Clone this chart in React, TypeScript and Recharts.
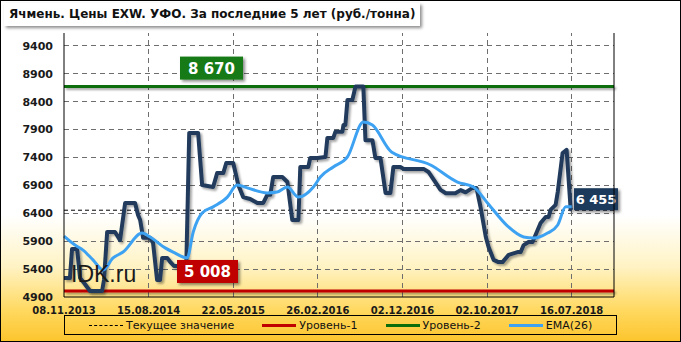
import React from 'react'
import { ComposedChart, Line, XAxis, YAxis, ReferenceLine } from 'recharts'

// week index of each x label
const xTicks = [0, 40, 80, 120, 160, 200, 240]
const xLabels = ['08.11.2013', '15.08.2014', '22.05.2015', '26.02.2016', '02.12.2016', '02.10.2017', '16.07.2018']
const yTicks = [4900, 5400, 5900, 6400, 6900, 7400, 7900, 8400, 8900, 9400]

// price, руб./тонна (vertices of the weekly line)
const priceX = [
  0, 2.8, 3.8, 6.2, 7.6, 9.5, 12.3, 18, 18.9, 20.4, 24.1, 26.5, 28.9, 33.6, 35, 36, 37.4, 40.7, 42.1, 44,
  45.4, 46.4, 48.8, 50.2, 52, 57.8, 59.2, 63.4, 65.3, 70.5, 72.4, 75.3, 76.7, 80, 82.4, 84.7, 88, 91.4, 94.2, 96.1,
  97.5, 98.9, 103.2, 105.6, 107.9, 110.8, 111.7, 115.5, 116.4, 119.8, 123.6, 124.5, 127.3, 128.3, 131.6, 132.1, 133, 134, 136.3, 137.8,
  141.5, 142.5, 145.8, 147.2, 149.6, 152, 154.3, 155.7, 159, 160.5, 170, 172.3, 178, 180.5, 185, 187.5, 189.8, 193.1, 195, 196.9,
  199.4, 200.7, 203.1, 205.4, 207.3, 210.2, 214.4, 215.9, 217.3, 219.6, 221.5, 223.9, 225.3, 227.7, 229.1, 230, 232.4, 233.4, 235.7, 237.6,
  239.5, 240,
]
const priceY = [
  5240, 5240, 5760, 5760, 5240, 5150, 5008, 5008, 5205, 6065, 6065, 5920, 6585, 6585, 6370, 6280, 5960, 5960, 5870, 5205,
  5205, 5600, 5600, 5530, 5455, 5455, 7840, 7840, 6905, 6870, 7120, 7120, 7300, 7300, 6905, 6690, 6655, 6585, 6585, 6730,
  6730, 7050, 7050, 6960, 6280, 6280, 7230, 7230, 7390, 7390, 7410, 7750, 7750, 7860, 7860, 7980, 7980, 8430, 8430, 8670,
  8670, 7710, 7710, 7390, 7390, 6765, 6765, 7230, 7230, 7195, 7195, 7140, 6820, 6760, 6760, 6815, 6775, 6855, 6855, 6513,
  5975, 5795, 5565, 5525, 5525, 5655, 5705, 5705, 5830, 5885, 5885, 6100, 6225, 6335, 6335, 6460, 6550, 6780, 7480, 7535,
  6480, 6455,
]

// EMA(26)
const emaX = [
  0, 5.2, 9, 13.7, 18.5, 23.2, 27.9, 36.9, 40.7, 47.8, 51.6, 58.2, 61.1, 65.3, 70.5, 77.2, 81.9, 86.6, 96.1, 100.8,
  105.6, 110.8, 117.9, 121.2, 127.3, 134, 141.5, 145.8, 154.8, 173.3, 186, 193.6, 200.2, 209.7, 217.3, 222, 228.6, 233.4, 237.2, 240,
]
const emaY = [
  5990, 5830, 5740, 5565, 5385, 5600, 5705, 6045, 5975, 5780, 5705, 5600, 6065, 6405, 6515, 6690, 6905, 6855, 6765, 6780,
  6870, 6690, 6870, 7050, 7230, 7410, 8035, 7980, 7500, 7265, 6960, 6870, 6585, 6170, 5975, 5955, 6045, 6190, 6515, 6515,
]

const level1 = 5008
const level2 = 8670
const current = 6455

type Row = { i: number; price?: number; ema?: number }
const rows = new Map<number, Row>()
priceX.forEach((x, k) => {
  const r = rows.get(x) ?? { i: x }
  r.price = priceY[k]
  rows.set(x, r)
})
emaX.forEach((x, k) => {
  const r = rows.get(x) ?? { i: x }
  r.ema = emaY[k]
  rows.set(x, r)
})
const data = Array.from(rows.values()).sort((a, b) => a.i - b.i)

const fmt = (v: number) => String(v).replace(/\B(?=(\d{3})+(?!\d))/g, ' ')

function BoxLabel(props: any) {
  const { viewBox, text, fill, dx, dy, w, h, fontSize } = props
  if (!viewBox) return null
  const x = viewBox.x + dx
  const y = viewBox.y + dy
  return (
    <g>
      <rect x={x} y={y} width={w} height={h} fill={fill} filter="url(#boxShadow)" />
      <text x={x + w / 2} y={y + h / 2 + 1} textAnchor="middle" dominantBaseline="middle" fill="#fff"
        fontWeight="bold" fontSize={fontSize} fontFamily="DejaVu Sans">{text}</text>
    </g>
  )
}

const legendItems = [
  { name: 'Текущее значение', color: '#000', dash: true },
  { name: 'Уровень-1', color: '#c00000', dash: false },
  { name: 'Уровень-2', color: '#0b6e0b', dash: false },
  { name: 'EMA(26)', color: '#3ea2f2', dash: false },
]

const yTick = { fontSize: 11, fontWeight: 'bold', fill: '#1a1a1a', fontFamily: 'DejaVu Sans' }

export default function App() {
  return (
    <div style={{
      position: 'absolute', left: 0, top: 0, width: 681, height: 342, overflow: 'hidden',
      background: 'linear-gradient(to bottom, #ffffff 0%, #ffffff 63%, #fff3c4 78%, #ffd85e 91%, #fcc42c 100%)',
      boxShadow: 'inset 0 0 0 1px #000', fontFamily: 'DejaVu Sans',
    }}>
      <ComposedChart width={681} height={342} data={data} margin={{ top: 33, right: 0, bottom: 0, left: 0 }}>
        <defs>
          <filter id="lineShadow" filterUnits="userSpaceOnUse" x="0" y="0" width="681" height="342">
            <feDropShadow dx="2" dy="2" stdDeviation="1.2" floodColor="#000" floodOpacity="0.35" />
          </filter>
          <filter id="boxShadow" x="-20%" y="-20%" width="150%" height="160%">
            <feDropShadow dx="2" dy="2" stdDeviation="1.5" floodColor="#000" floodOpacity="0.45" />
          </filter>
        </defs>
        <XAxis dataKey="i" type="number" domain={[0, 260]} ticks={xTicks} interval={0}
          tickFormatter={(v: number) => xLabels[xTicks.indexOf(v)] ?? ''}
          height={45} axisLine={{ stroke: '#000' }} tickLine={false} tickMargin={4}
          tick={{ fontSize: 10, fontWeight: 'bold', fill: '#1a1a1a', fontFamily: 'DejaVu Sans' }} />
        <XAxis xAxisId="top" orientation="top" dataKey="i" type="number" domain={[0, 260]} height={0}
          tick={false} tickLine={false} axisLine={{ stroke: '#000' }} />
        <YAxis domain={[4900, 9630]} ticks={yTicks} interval={0} width={64}
          axisLine={{ stroke: '#000' }} tickLine={false} tickMargin={5} tick={yTick} />
        <YAxis yAxisId="right" orientation="right" domain={[4900, 9630]} ticks={yTicks} interval={0} width={67}
          axisLine={{ stroke: '#000' }} tickLine={false} tickMargin={6} tick={yTick} />

        {/* dashed grid */}
        {yTicks.slice(1).map((v) => (
          <ReferenceLine key={'gy' + v} y={v} stroke="#6e6e6e" strokeWidth={1} strokeDasharray="5 4"
            shapeRendering="crispEdges" />
        ))}
        {xTicks.slice(1).map((v) => (
          <ReferenceLine key={'gx' + v} x={v} stroke="#6e6e6e" strokeWidth={1} strokeDasharray="5 4"
            shapeRendering="crispEdges" />
        ))}

        <ReferenceLine y={level1} stroke="#c00000" strokeWidth={3} filter="url(#lineShadow)" />
        <ReferenceLine y={level2} stroke="#0b6e0b" strokeWidth={3} filter="url(#lineShadow)" />
        <ReferenceLine y={current} stroke="#000" strokeWidth={1} strokeDasharray="4 3" />

        <Line dataKey="price" type="linear" stroke="#203b5c" strokeWidth={4}
          strokeLinejoin="round" dot={false} connectNulls isAnimationActive={false} filter="url(#lineShadow)" />
        <Line dataKey="ema" type="monotone" stroke="#3ea2f2" strokeWidth={3}
          dot={false} connectNulls isAnimationActive={false} />

        <ReferenceLine y={level2} stroke="none"
          label={(p: any) => <BoxLabel {...p} text={fmt(level2)} fill="#137a13" dx={116} dy={-30} w={63} h={23} fontSize={15} />} />
        <ReferenceLine y={level1} stroke="none"
          label={(p: any) => <BoxLabel {...p} text={fmt(level1)} fill="#c00000" dx={113} dy={-31} w={61} h={23} fontSize={15} />} />
        <ReferenceLine y={current} stroke="none"
          label={(p: any) => <BoxLabel {...p} text={fmt(current)} fill="#1d3a5c" dx={510} dy={-22} w={44} h={22} fontSize={13} />} />
      </ComposedChart>

      <div style={{
        position: 'absolute', left: 4, top: 3, height: 23, lineHeight: '23px', padding: '0 5px',
        background: '#fff', boxShadow: '2px 2px 3px rgba(0,0,0,0.45)', fontWeight: 'bold', fontSize: 12,
        color: '#111', whiteSpace: 'nowrap',
      }}>
        Ячмень. Цены EXW. УФО. За последние 5 лет (руб./тонна)
      </div>

      <div style={{
        position: 'absolute', left: 71, top: 261, fontFamily: 'Liberation Sans', fontSize: 23,
        color: '#1a1a1a', lineHeight: '26px',
      }}>IDK.ru</div>

      <div style={{
        position: 'absolute', left: 64, top: 315, width: 553, height: 20, boxSizing: 'border-box',
        border: '1px solid #000', display: 'flex', alignItems: 'center', paddingLeft: 24, gap: 28,
        fontSize: 11, color: '#111',
      }}>
        {legendItems.map((it) => (
          <div key={it.name} style={{ display: 'flex', alignItems: 'center', gap: 3 }}>
            <div style={{
              width: 34, height: 0,
              borderTop: it.dash ? `1px dashed ${it.color}` : `3px solid ${it.color}`,
            }} />
            <span>{it.name}</span>
          </div>
        ))}
      </div>
    </div>
  )
}
